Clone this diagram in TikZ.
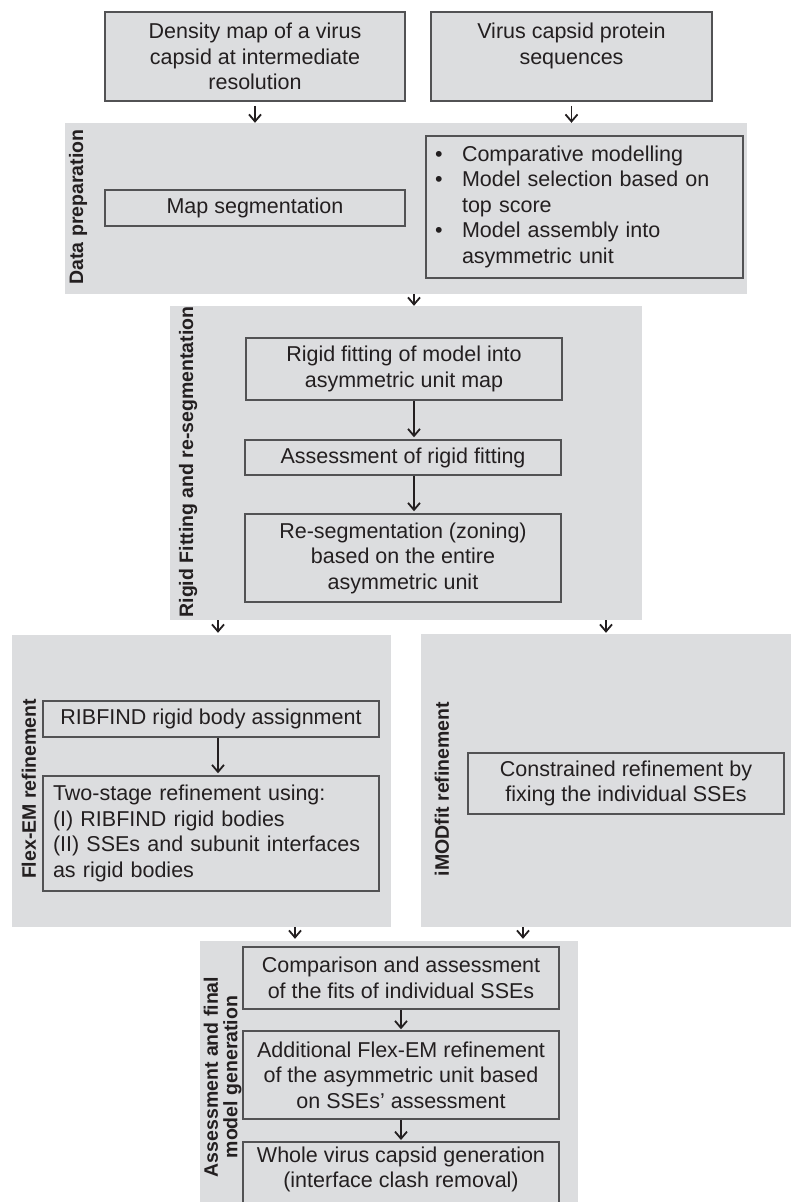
\documentclass[tikz,border=0pt]{standalone}
\usepackage{fontspec}
\setmainfont{Liberation Sans}
\usepackage{xcolor}
\usetikzlibrary{arrows.meta}
\definecolor{panelgray}{RGB}{220,221,223}
\definecolor{edgegray}{RGB}{82,82,84}
\definecolor{inkgray}{RGB}{35,31,32}
\tikzset{panel/.style={fill=panelgray, draw=none, inner sep=0pt},
 box/.style={draw=edgegray, line width=1.5pt, align=center, inner sep=0pt,
   font=\fontsize{21.5}{25.5}\selectfont, text=inkgray},
 sidelabel/.style={rotate=90, align=center, inner sep=0pt,
   font=\fontsize{19.5}{19.5}\selectfont\bfseries, text=inkgray},
 flow/.style={draw=inkgray, line width=1.8pt, -{Straight Barb[length=7pt,width=12pt]}},
 }

\begin{document}
\begin{tikzpicture}[x=1pt, y=-1pt]
    \clip (0,0) rectangle (791,1202);
    \node[panel, minimum width=682pt, minimum height=171pt] (prep) at (406,208.5) {};
    \node[panel, minimum width=472pt, minimum height=314pt] (rigid) at (406,463) {};
    \node[panel, minimum width=379pt, minimum height=292pt] (flex) at (201.5,781) {};
    \node[panel, minimum width=370pt, minimum height=293pt] (imod) at (606,780.5) {};
    \node[panel, minimum width=378pt, minimum height=269pt] (final) at (389,1075.5) {};
    \coordinate (rigidcol) at (414,0);
    \coordinate (flexcol) at (218,0);
    \coordinate (flexout) at (295,0);
    \coordinate (imodout) at (523,0);

    \node[box, fill=panelgray, minimum width=300pt, minimum height=89pt] (dens) at (255,56.5)
        {Density map of a virus\\capsid at intermediate\\resolution};
    \node[box, fill=panelgray, minimum width=281pt, minimum height=89pt] (seq) at (571.5,56.5)
        {Virus capsid protein\\sequences\\\mbox{}};

    \node[sidelabel] (preplabel) at (78,207) {Data preparation};
    \node[box, minimum width=300pt, minimum height=36pt] (mapseg) at (255,208) {Map segmentation};
    \node[box, text width=299pt, inner xsep=9pt, align=left, minimum height=142pt] (models) at (584.5,207)
        {\begin{tabular}{@{}l@{\hspace{19.5pt}}l@{}}
        \textbullet & Comparative modelling\\
        \textbullet & Model selection based on\\
         & top score\\
        \textbullet & Model assembly into\\
         & asymmetric unit
        \end{tabular}};

    \node[sidelabel] (rigidlabel) at (188,462) {Rigid Fitting and re-segmentation};
    \node[box, minimum width=316pt, minimum height=62pt] (rfit) at (404,369)
        {Rigid fitting of model into\\asymmetric unit map};
    \node[box, minimum width=316pt, minimum height=35pt] (rassess) at (403,457.5)
        {Assessment of rigid fitting};
    \node[box, minimum width=316pt, minimum height=88pt] (reseg) at (403,558)
        {Re-segmentation (zoning)\\based on the entire\\asymmetric unit};

    \node[sidelabel] (flexlabel) at (29,789) {Flex-EM refinement};
    \node[box, minimum width=336pt, minimum height=36pt] (ribfind) at (211,719)
        {RIBFIND rigid body assignment};
    \node[box, text width=316pt, inner xsep=10pt, align=left, minimum height=115pt] (twostage) at (211,833.5)
        {Two-stage refinement using:\\(I) RIBFIND rigid bodies\\(II) SSEs and subunit interfaces\\as rigid bodies};

    \node[sidelabel] (imodlabel) at (442,789) {iMODfit refinement};
    \node[box, minimum width=316pt, minimum height=61pt] (constr) at (626,783.5)
        {Constrained refinement by\\fixing the individual SSEs};

    \node[sidelabel] (finallabel) at (222.5,1077) {Assessment and final\\model generation};
    \node[box, minimum width=316pt, minimum height=62pt] (compare) at (401,978)
        {Comparison and assessment\\of the fits of individual SSEs};
    \node[box, minimum width=316pt, minimum height=88pt] (addit) at (401,1075)
        {Additional Flex-EM refinement\\of the asymmetric unit based\\on SSEs’ assessment};
    \node[box, minimum width=316pt, inner ysep=5pt, anchor=north] (whole) at (401,1141)
        {Whole virus capsid generation\\(interface clash removal)\\\mbox{}};

    \draw[flow, shorten <=4pt] (dens.south) -- (dens.south |- prep.north);
    \draw[flow, shorten <=4pt] (seq.south) -- (seq.south |- prep.north);
    \draw[flow] (prep.south -| rigidcol) -- (rigid.north -| rigidcol);
    \draw[flow, shorten >=2pt] (rfit.south -| rigidcol) -- (rassess.north -| rigidcol);
    \draw[flow, shorten >=2pt] (rassess.south -| rigidcol) -- (reseg.north -| rigidcol);
    \draw[flow, shorten >=2pt] (rigid.south -| flexcol) -- (flex.north -| flexcol);
    \draw[flow, shorten >=1pt] (rigid.south -| imod.north) -- (imod.north);
    \draw[flow, shorten >=2pt] (ribfind.south -| flexcol) -- (twostage.north -| flexcol);
    \draw[flow, shorten >=2pt] (flex.south -| flexout) -- (final.north -| flexout);
    \draw[flow, shorten >=2pt] (imod.south -| imodout) -- (final.north -| imodout);
    \draw[flow, shorten >=1pt] (compare) -- (addit);
    \draw[flow, shorten >=1pt] (addit) -- (whole);
\end{tikzpicture}
\end{document}
